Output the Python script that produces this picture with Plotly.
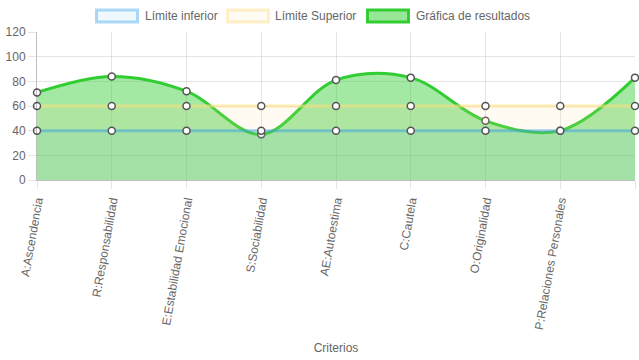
import plotly.graph_objects as go

categorias = ["A:Ascendencia", "R:Responsabilidad", "E:Estabilidad Emocional", "S:Sociabilidad",
              "AE:Autoestima", "C:Cautela", "O:Originalidad", "P:Relaciones Personales", "V:Vigor"]
limite_inferior = [40, 40, 40, 40, 40, 40, 40, 40, 40]
limite_superior = [60, 60, 60, 60, 60, 60, 60, 60, 60]
resultados = [71, 84, 72, 37, 81, 83, 48, 40, 83]
nombres = ["Límite inferior", "Límite Superior", "Gráfica de resultados"]

W, H = 639, 360
L, R, T, B = 37, 4, 32, 180
font = dict(family="Liberation Sans, Arial, sans-serif", size=12, color="#666")
marker = dict(size=7, color="white", line=dict(color="#555", width=1.5))
xs = list(range(len(categorias)))

fig = go.Figure()
fig.add_trace(go.Scatter(
    x=xs, y=resultados, name=nombres[2], mode="lines+markers",
    line=dict(color="rgb(50,205,50)", width=3, shape="spline", smoothing=1.0),
    fill="tozeroy", fillcolor="rgba(50,205,50,0.45)", marker=marker, cliponaxis=False))
fig.add_trace(go.Scatter(
    x=xs, y=limite_superior, name=nombres[1], mode="lines+markers",
    line=dict(color="rgba(255,225,130,0.6)", width=3),
    fill="tozeroy", fillcolor="rgba(255,225,150,0.12)", marker=marker, cliponaxis=False))
fig.add_trace(go.Scatter(
    x=xs, y=limite_inferior, name=nombres[0], mode="lines+markers",
    line=dict(color="rgba(54,162,235,0.45)", width=3),
    fill="tozeroy", fillcolor="rgba(54,162,235,0.08)", marker=marker, cliponaxis=False))

# manual legend (Chart.js style boxes)
pw, ph = W - L - R, H - T - B
def px(x):
    return (x - L) / pw
def py(y):
    return (H - B - y) / ph

leg = [
    (96.5, 137.5, 143, "rgba(54,162,235,0.4)", "rgba(54,162,235,0.08)"),
    (227.5, 268.5, 273, "rgba(255,215,100,0.35)", "rgba(255,225,150,0.12)"),
    (367.5, 408.5, 414, "rgb(50,205,50)", "rgba(50,205,50,0.5)"),
]
for (x0, x1, tx, lc, fc), nm in zip(leg, nombres):
    fig.add_shape(type="rect", xref="paper", yref="paper", x0=px(x0), x1=px(x1),
                  y0=py(22), y1=py(10), line=dict(color=lc, width=3), fillcolor=fc)
    fig.add_annotation(xref="paper", yref="paper", x=px(tx), y=py(16), text=nm,
                       showarrow=False, xanchor="left", yanchor="middle", font=font)

fig.update_layout(
    width=W, height=H, margin=dict(l=L, r=R, t=T, b=B, autoexpand=False),
    paper_bgcolor="white", plot_bgcolor="white", font=font, showlegend=False,
)
fig.update_xaxes(
    range=[0, len(categorias) - 1], tickmode="array", tickvals=xs, ticktext=categorias,
    tickangle=-80, showgrid=True, gridcolor="rgba(0,0,0,0.1)", ticks="outside", ticklen=8,
    tickcolor="rgba(0,0,0,0.1)", showline=True, linecolor="rgba(0,0,0,0.25)", zeroline=False,
    automargin=False, title=dict(text="Criterios", font=font, standoff=13), tickfont=font)
fig.update_yaxes(
    range=[0, 120], dtick=20, showgrid=True, gridcolor="rgba(0,0,0,0.1)", ticks="outside",
    ticklen=8, tickcolor="rgba(0,0,0,0.1)", showline=True, linecolor="rgba(0,0,0,0.25)",
    zeroline=False, automargin=False, tickfont=font)

fig.write_html("out.html", config={"displayModeBar": False},
               post_script="document.body.style.margin='0';")
